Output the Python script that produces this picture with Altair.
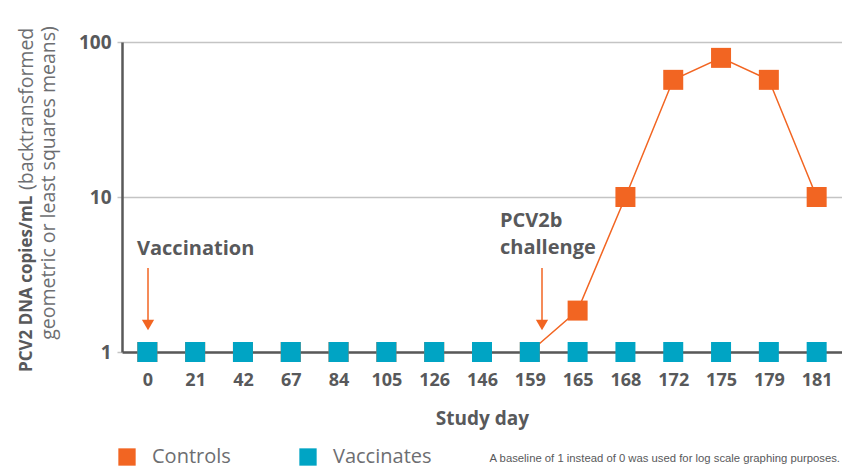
import altair as alt
import pandas as pd

days = ["0", "21", "42", "67", "84", "105", "126", "146", "159", "165", "168", "172", "175", "179", "181"]
controls = [1, 1, 1, 1, 1, 1, 1, 1, 1, 1.85, 10, 57, 79, 57, 10]
vaccinates = [1, 1, 1, 1, 1, 1, 1, 1, 1, 1, 1, 1, 1, 1, 1]
series_names = ["Controls", "Vaccinates"]
series_colors = ["#F26522", "#00A4C4"]
y_ticks = [1, 10, 100]

GRAY = "#58595B"
ORANGE = series_colors[0]

rows = []
for i, d in enumerate(days):
    rows.append({"day": d, "idx": i, "series": "Controls", "value": controls[i]})
for i, d in enumerate(days):
    rows.append({"day": d, "idx": i, "series": "Vaccinates", "value": vaccinates[i]})
df = pd.DataFrame(rows)

W, H = 720, 310

x_enc = alt.X(
    "day:N", sort=days,
    scale=alt.Scale(type="point", padding=0.53),
    axis=alt.Axis(
        title="Study day", ticks=False, labelAngle=0,
        labelFont="Open Sans", labelFontWeight="bold", labelFontSize=18, labelColor=GRAY,
        labelPadding=19, domainColor="#595959", domainWidth=2.5,
        titleFont="Open Sans", titleFontWeight="bold", titleFontSize=19,
        titleColor=GRAY, titlePadding=20, grid=False,
    ),
)
y_enc = alt.Y(
    "value:Q",
    scale=alt.Scale(type="log", domain=[1, 100]),
    axis=alt.Axis(
        title=None, values=y_ticks, format=".0f",
        labelFont="Open Sans", labelFontWeight="bold", labelFontSize=19, labelColor=GRAY,
        labelPadding=6, tickSize=5, tickColor="#c4c4c4", tickWidth=1.5,
        domainColor="#595959", domainWidth=2.5,
        grid=True, gridColor="#c4c4c4", gridWidth=1.5,
    ),
)

base = alt.Chart(df)

line = base.transform_filter(
    (alt.datum.series == "Controls") & (alt.datum.idx >= 8)
).mark_line(color=ORANGE, strokeWidth=1.5).encode(x=x_enc, y=y_enc)

points = base.mark_square(size=400, opacity=1).encode(
    x=x_enc, y=y_enc,
    color=alt.Color(
        "series:N",
        scale=alt.Scale(domain=series_names, range=series_colors),
        legend=alt.Legend(
            title=None, orient="none", legendX=-5, legendY=405, direction="horizontal",
            symbolType="square", symbolSize=300, symbolStrokeWidth=0, symbolOpacity=1,
            labelFont="Open Sans", labelFontSize=20, labelColor="#6D6E71",
            labelOffset=15, columnPadding=67,
        ),
    ),
)

annot = pd.DataFrame({
    "t": ["Vaccination", "PCV2b", "challenge"],
    "px": [15, 378, 378],
    "py": [207, 179, 206],
})
annot_text = alt.Chart(annot).mark_text(
    align="left", baseline="middle", font="Open Sans", fontWeight="bold",
    fontSize=20, color=GRAY,
).encode(x=alt.X("px:Q", scale=None), y=alt.Y("py:Q", scale=None), text="t:N")

arrows = pd.DataFrame({"ax": [26, 420]})
arrow_lines = alt.Chart(arrows).mark_rule(color=ORANGE, strokeWidth=1.5).encode(
    x=alt.X("ax:Q", scale=None), y=alt.value(226), y2=alt.value(279)
)
arrow_heads = alt.Chart(arrows).mark_point(
    shape="triangle-down", filled=True, size=150, color=ORANGE, opacity=1
).encode(x=alt.X("ax:Q", scale=None), y=alt.value(283))

ytitle = pd.DataFrame({
    "t": ["PCV2 DNA copies/mL", "(backtransformed", "geometric or least squares means)"],
    "px": [-95, -95, -73],
    "py": [330, 148, 141],
})
yt_bold = alt.Chart(ytitle.iloc[[0]]).mark_text(
    angle=270, align="left", baseline="middle", font="Open Sans", fontWeight="bold",
    fontSize=17, color=GRAY,
).encode(x=alt.X("px:Q", scale=None), y=alt.Y("py:Q", scale=None), text="t:N")
yt_reg1 = alt.Chart(ytitle.iloc[[1]]).mark_text(
    angle=270, align="left", baseline="middle", font="Open Sans",
    fontSize=19.5, color="#6D6E71",
).encode(x=alt.X("px:Q", scale=None), y=alt.Y("py:Q", scale=None), text="t:N")
yt_reg2 = alt.Chart(ytitle.iloc[[2]]).mark_text(
    angle=270, align="center", baseline="middle", font="Open Sans",
    fontSize=19.5, color="#6D6E71",
).encode(x=alt.X("px:Q", scale=None), y=alt.Y("py:Q", scale=None), text="t:N")

foot = pd.DataFrame({"t": ["A baseline of 1 instead of 0 was used for log scale graphing purposes."]})
footnote = alt.Chart(foot).mark_text(
    align="right", baseline="middle", font="Liberation Sans", fontSize=11.3, color=GRAY,
).encode(x=alt.value(718), y=alt.value(417), text="t:N")

chart = alt.layer(
    line, points, annot_text, arrow_lines, arrow_heads, yt_bold, yt_reg1, yt_reg2, footnote
).properties(
    width=W, height=H,
    autosize=alt.AutoSizeParams(type="none"),
    padding={"left": 114, "top": 34, "right": 0, "bottom": 126},
).configure_view(stroke=None).configure(background="white")

chart.save("out.html", embed_options={"renderer": "svg", "actions": False})
